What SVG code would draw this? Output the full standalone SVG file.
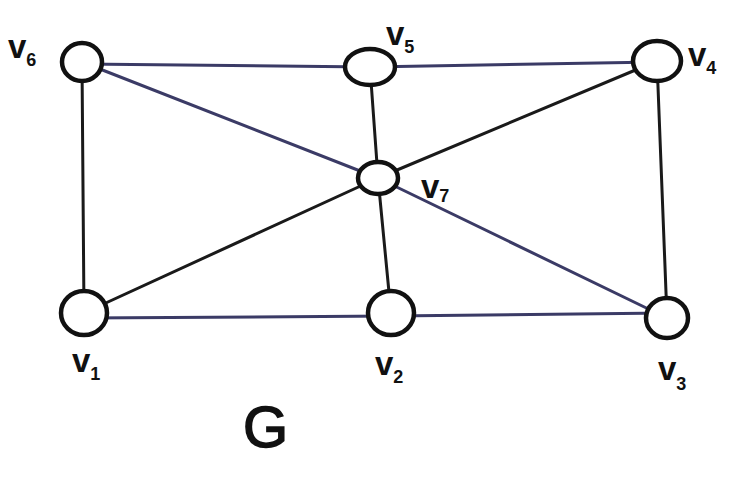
<svg xmlns="http://www.w3.org/2000/svg" width="748" height="480" viewBox="0 0 748 480">
<style>
.e{stroke:#1a1a1a;stroke-width:3;fill:none;stroke-linecap:round}
.b{stroke:#3b3b66;stroke-width:3;fill:none;stroke-linecap:round}
.n{fill:#fff;stroke:#111;stroke-width:4.5}
.l{font-family:"Liberation Sans",Arial,sans-serif;font-size:33px;fill:#111;font-weight:bold}
.s{font-size:18px}
</style>
<rect width="748" height="480" fill="#fff"/>
<g id="edges">
<line class="b" x1="82" y1="64" x2="370" y2="67"/>
<line class="b" x1="370" y1="67" x2="657" y2="62"/>
<line class="e" x1="82" y1="62" x2="84" y2="313"/>
<line class="e" x1="370" y1="67" x2="378" y2="178"/>
<line class="e" x1="378" y1="178" x2="391" y2="313"/>
<line class="e" x1="657" y1="61" x2="667" y2="318"/>
<line class="b" x1="84" y1="318" x2="391" y2="316"/>
<line class="b" x1="391" y1="316" x2="667" y2="313"/>
<line class="b" x1="82" y1="62" x2="378" y2="178"/>
<line class="b" x1="378" y1="178" x2="667" y2="318"/>
<line class="e" x1="84" y1="313" x2="378" y2="178"/>
<line class="e" x1="378" y1="178" x2="657" y2="61"/>
</g>
<g id="v6"><ellipse class="n" cx="82" cy="62" rx="20" ry="19"/><text class="l" x="8" y="58">v<tspan class="s" dy="8">6</tspan></text></g>
<g id="v5"><ellipse class="n" cx="370" cy="67" rx="25" ry="18"/><text class="l" x="386" y="45">v<tspan class="s" dy="8">5</tspan></text></g>
<g id="v4"><ellipse class="n" cx="657" cy="61" rx="24" ry="20"/><text class="l" x="688" y="66">v<tspan class="s" dy="8">4</tspan></text></g>
<g id="v7"><ellipse class="n" cx="378" cy="178" rx="20" ry="16"/><text class="l" x="421" y="198">v<tspan class="s" dy="4">7</tspan></text></g>
<g id="v1"><ellipse class="n" cx="84" cy="313" rx="23" ry="22"/><text class="l" x="72" y="372">v<tspan class="s" dy="8">1</tspan></text></g>
<g id="v2"><ellipse class="n" cx="391" cy="313" rx="23" ry="22"/><text class="l" x="375" y="375">v<tspan class="s" dy="8">2</tspan></text></g>
<g id="v3"><ellipse class="n" cx="667" cy="318" rx="21" ry="20"/><text class="l" x="658" y="380">v<tspan class="s" dy="10">3</tspan></text></g>
<text class="l" x="243" y="447" style="font-size:58px;font-weight:normal;stroke:#111;stroke-width:1.5">G</text>
</svg>
